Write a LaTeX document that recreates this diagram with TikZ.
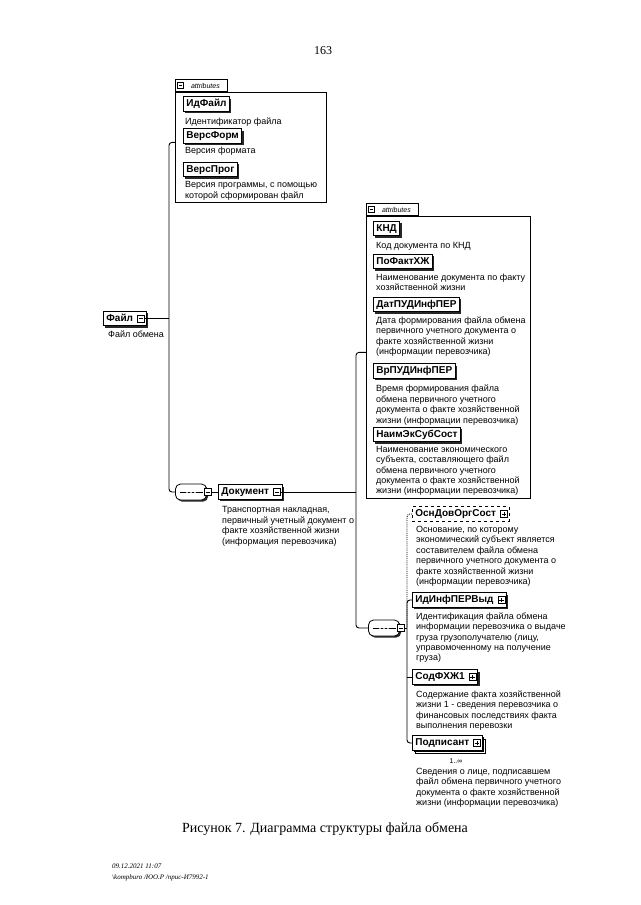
\documentclass[tikz,border=0pt]{standalone}
\usepackage{fontspec}
\setmainfont{Liberation Serif}
\newfontfamily\diafont{Liberation Sans}
\usetikzlibrary{positioning,shadows}

\begin{document}
\begin{tikzpicture}[
    x=1pt, y=-1pt,
    elbase/.style={
      draw,
      fill=white,
      line width=0.8pt,
      font=\diafont\bfseries\fontsize{10}{11}\selectfont,
      inner xsep=3pt,
      inner ysep=0pt,
      text height=7.5pt,
      text depth=2pt,
      minimum height=14.5pt,
      anchor=west
    },
    elem/.style={
      elbase,
      drop shadow={shadow xshift=1.8pt, shadow yshift=-1.8pt, fill=black!85, opacity=1}
    },
    elemx/.style={elem, execute at end node=\hspace{10pt}},
    optelem/.style={elbase, dashed, execute at end node=\hspace{10pt}},
    multielem/.style={
      elbase,
      execute at end node=\hspace{10pt},
      double copy shadow={shadow xshift=1.6pt, shadow yshift=-1.6pt}
    },
    desc/.style={
      anchor=north west,
      align=left,
      inner sep=0pt,
      font=\diafont\fontsize{9}{10.4}\selectfont
    },
    attrbox/.style={draw, line width=0.8pt, anchor=north west, inner sep=0pt},
    attrtab/.style={
      draw,
      line width=0.8pt,
      anchor=south west,
      minimum width=52pt,
      minimum height=12pt,
      inner sep=1pt,
      font=\diafont\itshape\fontsize{7}{8}\selectfont
    },
    xbox/.style={draw, fill=white, minimum size=7pt, inner sep=0pt, line width=0.6pt},
    minus/.style={
      xbox,
      path picture={
        \draw ([xshift=1.3pt]path picture bounding box.west) -- ([xshift=-1.3pt]path picture bounding box.east);
      }
    },
    plus/.style={
      xbox,
      path picture={
        \draw ([xshift=1.3pt]path picture bounding box.west) -- ([xshift=-1.3pt]path picture bounding box.east);
        \draw ([yshift=1.3pt]path picture bounding box.south) -- ([yshift=-1.3pt]path picture bounding box.north);
      }
    },
    seq/.style={
      draw,
      fill=white,
      line width=0.8pt,
      rounded corners=5pt,
      minimum width=31pt,
      minimum height=16pt,
      inner sep=0pt,
      drop shadow={shadow xshift=1.6pt, shadow yshift=-1.6pt, fill=black!85, opacity=1},
      path picture={
        \draw ([xshift=4pt]path picture bounding box.west) -- ([xshift=-4pt]path picture bounding box.east);
        \foreach \dx in {-4,0,4}
          \fill ([xshift=\dx pt]path picture bounding box.center) circle (1pt);
      }
    },
    conn/.style={line width=0.9pt, rounded corners=3pt}
  ]

  \useasboundingbox[fill=white] (0,0) rectangle (640,905);

  \node[font=\fontsize{12}{14}\selectfont] (pageno) at (323,51) {163};

  % root
  \node[elemx] (file) at (103,318.5) {Файл};
  \node[minus] (fileX) at ([xshift=-5.5pt]file.east) {};
  \node[desc] (filed) at (108,331) {Файл обмена};

  % attributes of the file
  \node[attrbox, minimum width=151pt, minimum height=110pt] (attr1) at (175,92) {};
  \node[attrtab] (tab1) at (attr1.north west) {\hspace{8pt}attributes};
  \node[minus, minimum size=6pt] (tab1X) at ([xshift=5.5pt]tab1.west) {};

  \node[elem] (idfile) at (183,104) {ИдФайл};
  \node[desc] (idfiled) at (185,117.5) {Идентификатор файла};
  \node[elem] (versform) at (183,136) {ВерсФорм};
  \node[desc] (versformd) at (185,147) {Версия формата};
  \node[elem] (versprog) at (183,169.5) {ВерсПрог};
  \node[desc] (versprogd) at (185,181.5) {Версия программы, с помощью\\которой сформирован файл};

  % sequence and document
  \node[seq] (seq1) at (191,492) {};
  \node[minus] (seq1X) at (208,492) {};
  \node[elemx] (doc) at (218,492) {Документ};
  \node[minus] (docX) at ([xshift=-5.5pt]doc.east) {};
  \node[desc] (docd) at (222,506.5) {Транспортная накладная,\\первичный учетный документ о\\факте хозяйственной жизни\\(информация перевозчика)};

  \coordinate (spineA) at (169,318.5);
  \draw[conn] (fileX.east) -- (spineA);
  \draw[conn] ([yshift=5pt]attr1.west) -| (spineA) |- (seq1.west);
  \draw[conn] (seq1X.east) -- (doc.west);

  % attributes of the document
  \node[attrbox, minimum width=164pt, minimum height=282pt] (attr2) at (366,216) {};
  \node[attrtab] (tab2) at (attr2.north west) {\hspace{8pt}attributes};
  \node[minus, minimum size=6pt] (tab2X) at ([xshift=5.5pt]tab2.west) {};

  \node[elem] (knd) at (373,228.5) {КНД};
  \node[desc] (kndd) at (376,242.5) {Код документа по КНД};
  \node[elem] (pofakt) at (373,261.5) {ПоФактХЖ};
  \node[desc] (pofaktd) at (376,273.5) {Наименование документа по факту\\хозяйственной жизни};
  \node[elem] (datpud) at (373,304.5) {ДатПУДИнфПЕР};
  \node[desc] (datpudd) at (376,316.5) {Дата формирования файла обмена\\первичного учетного документа о\\факте хозяйственной жизни\\(информации перевозчика)};
  \node[elem] (vrpud) at (373,371) {ВрПУДИнфПЕР};
  \node[desc] (vrpudd) at (376,385) {Время формирования файла\\обмена первичного учетного\\документа о факте хозяйственной\\жизни (информации перевозчика)};
  \node[elem] (naimek) at (373,434.5) {НаимЭкСубСост};
  \node[desc] (naimekd) at (376,446) {Наименование экономического\\субъекта, составляющего файл\\обмена первичного учетного\\документа о факте хозяйственной\\жизни (информации перевозчика)};

  % children of the document
  \node[seq] (seq2) at (384,628) {};
  \node[minus] (seq2X) at (401,628) {};

  \node[optelem] (osn) at (412,514) {ОснДовОргСост};
  \node[plus] (osnX) at ([xshift=-5.5pt]osn.east) {};
  \node[desc] (osnd) at (416,526) {Основание, по которому\\экономический субъект является\\составителем файла обмена\\первичного учетного документа о\\факте хозяйственной жизни\\(информации перевозчика)};

  \node[elemx] (idinf) at (412,600) {ИдИнфПЕРВыд};
  \node[plus] (idinfX) at ([xshift=-5.5pt]idinf.east) {};
  \node[desc] (idinfd) at (416,612.5) {Идентификация файла обмена\\информации перевозчика о выдаче\\груза грузополучателю (лицу,\\управомоченному на получение\\груза)};

  \node[elemx] (sod) at (412,677) {СодФХЖ1};
  \node[plus] (sodX) at ([xshift=-5.5pt]sod.east) {};
  \node[desc] (sodd) at (416,690.5) {Содержание факта хозяйственной\\жизни 1 - сведения перевозчика о\\финансовых последствиях факта\\выполнения перевозки};

  \node[multielem] (podp) at (412,743) {Подписант};
  \node[plus] (podpX) at ([xshift=-5.5pt]podp.east) {};
  \node[font=\diafont\fontsize{7}{8}\selectfont, inner sep=0pt] (podpn) at (456,761) {1..∞};
  \node[desc] (podpd) at (416,768) {Сведения о лице, подписавшем\\файл обмена первичного учетного\\документа о факте хозяйственной\\жизни (информации перевозчика)};

  \coordinate (spineB) at (356,492);
  \coordinate (spineC) at (407,628);
  \draw[conn] (docX.east) -- (spineB);
  \draw[conn] ([yshift=5pt]attr2.west) -| (spineB) |- (seq2.west);
  \draw[conn] (seq2X.east) -- (spineC);
  \draw[conn, densely dotted] (osn.west) -| (spineC);
  \draw[conn] (idinf.west) -| (spineC) |- (podp.west);
  \draw[conn] (sod.west) -- (sod.west -| spineC);

  % caption and footer
  \node[font=\fontsize{14}{16}\selectfont] (caption) at (325,829) {Рисунок 7. Диаграмма структуры файла обмена};
  \node[anchor=base west, inner sep=0pt, font=\itshape\fontsize{7}{8}\selectfont] (stamp) at (112,868) {09.12.2021 11:07};
  \node[anchor=base west, inner sep=0pt, font=\itshape\fontsize{7}{8}\selectfont] (path) at (112,879) {\textbackslash kompburo /ЮО.Р /прис-И7992-1};

\end{tikzpicture}
\end{document}
